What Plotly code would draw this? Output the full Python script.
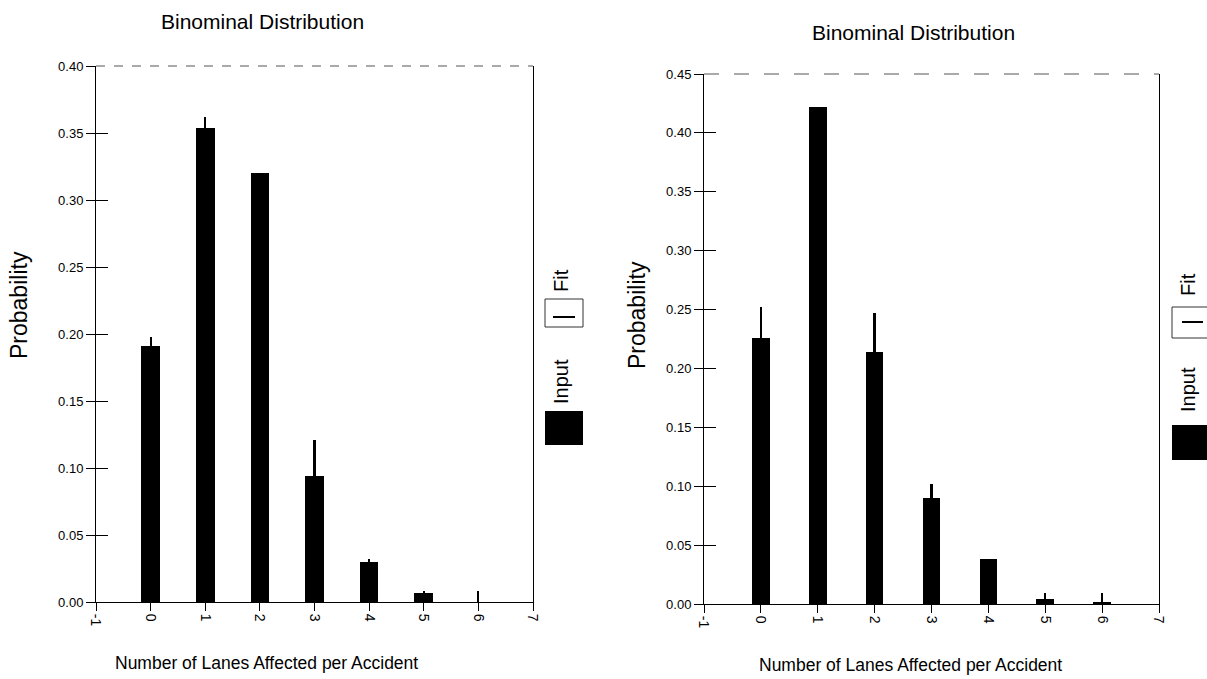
import plotly.graph_objects as go

# ---------------- data ----------------
lanes = [0, 1, 2, 3, 4, 5, 6]
left_input = [0.191, 0.354, 0.320, 0.094, 0.030, 0.007, 0.0]
left_fit = [0.198, 0.362, 0.285, 0.121, 0.032, 0.008, 0.008]
right_input = [0.226, 0.422, 0.214, 0.090, 0.038, 0.004, 0.002]
right_fit = [0.252, 0.410, 0.247, 0.102, 0.030, 0.009, 0.009]
x_ticks = [-1, 0, 1, 2, 3, 4, 5, 6, 7]
left_yticks = [0.00, 0.05, 0.10, 0.15, 0.20, 0.25, 0.30, 0.35, 0.40]
right_yticks = [0.00, 0.05, 0.10, 0.15, 0.20, 0.25, 0.30, 0.35, 0.40, 0.45]
chart_title = "Binominal Distribution"
x_title = "Number of Lanes Affected per Accident"
y_title = "Probability"

W, H = 1207, 679
FONT = "Liberation Sans, Arial, sans-serif"

def px(x):
    return x / W

def py(y):
    return 1 - y / H

fig = go.Figure()

# left panel
fig.add_bar(x=lanes, y=left_input, width=0.34, marker=dict(color="black", line=dict(width=0)),
            xaxis="x", yaxis="y", name="Input", showlegend=False)
fig.add_bar(x=lanes, y=left_fit, width=0.04, marker=dict(color="black", line=dict(width=0)),
            xaxis="x", yaxis="y", name="Fit", showlegend=False)
# right panel
fig.add_bar(x=lanes, y=right_input, width=0.31, marker=dict(color="black", line=dict(width=0)),
            xaxis="x2", yaxis="y2", name="Input", showlegend=False)
fig.add_bar(x=lanes, y=right_fit, width=0.04, marker=dict(color="black", line=dict(width=0)),
            xaxis="x2", yaxis="y2", name="Fit", showlegend=False)
# empty helper traces so that the overlay axes (inner tick halves) render
fig.add_scatter(x=[None], y=[None], xaxis="x", yaxis="y3", showlegend=False)
fig.add_scatter(x=[None], y=[None], xaxis="x2", yaxis="y4", showlegend=False)

tickfont = dict(family=FONT, size=13, color="black")

def xax(domain, anchor):
    return dict(domain=domain, anchor=anchor, range=[-1, 7], tickvals=x_ticks,
                ticktext=[str(v) for v in x_ticks], tickangle=90, ticks="outside",
                ticklen=8, tickcolor="black", tickfont=dict(family=FONT, size=14, color="black"),
                showline=True, linecolor="black", linewidth=1, showgrid=False,
                zeroline=False, mirror=False, fixedrange=True, automargin=False)

def yax(domain, anchor, rng, ticks):
    return dict(domain=domain, anchor=anchor, range=rng, tickvals=ticks, tickformat=".2f",
                ticks="outside", ticklen=9, tickcolor="black", tickfont=tickfont,
                showline=True, linecolor="black", linewidth=1, mirror=True,
                showgrid=False, zeroline=False, fixedrange=True, automargin=False)

def yin(over, anchor, rng, ticks, domain):
    return dict(overlaying=over, anchor=anchor, range=rng, tickvals=ticks, domain=domain,
                ticks="inside", ticklen=12, tickcolor="black", showticklabels=False,
                showline=False, showgrid=False, zeroline=False, fixedrange=True,
                automargin=False)

ld_x = [px(96), px(533)]
ld_y = [py(602), py(66)]
rd_x = [px(704), px(1159)]
rd_y = [py(604), py(74)]

fig.update_layout(
    width=W, height=H, margin=dict(l=0, r=0, t=0, b=0, autoexpand=False),
    paper_bgcolor="white", plot_bgcolor="white",
    barmode="overlay", bargap=0,
    font=dict(family=FONT, color="black"),
    xaxis=xax(ld_x, "y"),
    yaxis=yax(ld_y, "x", [0, 0.40], left_yticks),
    xaxis2=xax(rd_x, "y2"),
    yaxis2=yax(rd_y, "x2", [0, 0.45], right_yticks),
    yaxis3=yin("y", "x", [0, 0.40], left_yticks, ld_y),
    yaxis4=yin("y2", "x2", [0, 0.45], right_yticks, rd_y),
)

def ann(text, x, y, size, angle=0):
    return dict(text=text, x=px(x), y=py(y), xref="paper", yref="paper",
                xanchor="center", yanchor="middle", textangle=angle,
                showarrow=False, font=dict(family=FONT, size=size, color="black"))

anns = [
    ann(chart_title, 262, 21, 21),
    ann(chart_title, 913, 32, 21),
    ann(x_title, 266, 663, 17.5),
    ann(x_title, 910, 665, 17.5),
    ann(y_title, 19, 305, 23, -90),
    ann(y_title, 637, 315, 23, -90),
    ann("Input", 561, 382, 20, -90),
    ann("Fit", 561, 281, 20, -90),
    ann("Input", 1188, 390, 20, -90),
    ann("Fit", 1188, 285, 20, -90),
]
fig.update_layout(annotations=anns)

shapes = []
# top borders (dashed grey as in the scan)
shapes.append(dict(type="line", xref="x domain", yref="y domain", x0=0, x1=1, y0=1, y1=1,
                   line=dict(color="#555555", width=1, dash="dash")))
shapes.append(dict(type="line", xref="x2 domain", yref="y2 domain", x0=0, x1=1, y0=1, y1=1,
                   line=dict(color="#555555", width=1, dash="longdash")))
# legend symbols, left
shapes.append(dict(type="rect", xref="paper", yref="paper", x0=px(545), x1=px(583),
                   y0=py(445), y1=py(411), fillcolor="black", line=dict(width=0)))
shapes.append(dict(type="rect", xref="paper", yref="paper", x0=px(545), x1=px(583),
                   y0=py(327), y1=py(299), fillcolor="white", line=dict(color="#333333", width=1)))
shapes.append(dict(type="line", xref="paper", yref="paper", x0=px(553), x1=px(575),
                   y0=py(317), y1=py(317), line=dict(color="black", width=2)))
# legend symbols, right
shapes.append(dict(type="rect", xref="paper", yref="paper", x0=px(1172), x1=px(1210),
                   y0=py(460), y1=py(425), fillcolor="black", line=dict(width=0)))
shapes.append(dict(type="rect", xref="paper", yref="paper", x0=px(1172), x1=px(1210),
                   y0=py(338), y1=py(307), fillcolor="white", line=dict(color="#333333", width=1)))
shapes.append(dict(type="line", xref="paper", yref="paper", x0=px(1182), x1=px(1203),
                   y0=py(322), y1=py(322), line=dict(color="black", width=2)))
fig.update_layout(shapes=shapes)

fig.write_html("out.html", config={"displayModeBar": False},
               post_script="document.body.style.margin='0';document.body.style.overflow='hidden';")
